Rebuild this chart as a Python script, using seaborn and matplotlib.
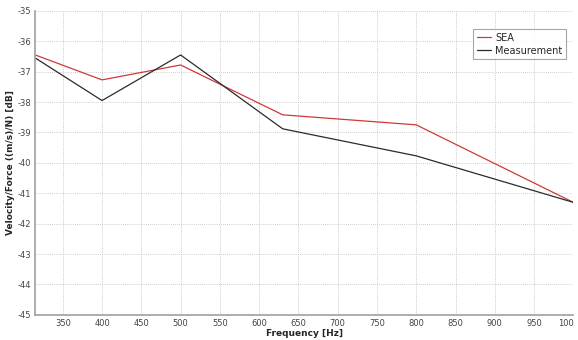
import matplotlib
matplotlib.use("Agg")
import matplotlib.pyplot as plt
import seaborn as sns
import pandas as pd

freq = [315, 400, 500, 630, 800, 1000]
sea = [-36.45, -37.27, -36.78, -38.42, -38.75, -41.3]
measurement = [-36.55, -37.95, -36.45, -38.88, -39.77, -41.3]
xtick_values = [350, 400, 450, 500, 550, 600, 650, 700, 750, 800, 850, 900, 950, 1000]
xtick_labels = ["350", "400", "450", "500", "550", "600", "650", "700", "750",
                "800", "850", "900", "950", "100"]

df = pd.DataFrame({
    "Frequency": freq * 2,
    "Value": sea + measurement,
    "Series": ["SEA"] * len(freq) + ["Measurement"] * len(freq),
})

sns.set_theme(style="white")
plt.rcParams['font.family'] = ['DejaVu Sans']
plt.rcParams['axes.unicode_minus'] = False

fig = plt.figure(figsize=(5.78, 3.4), dpi=100)
ax = fig.add_axes([0.061, 0.074, 0.931, 0.894])

sns.lineplot(data=df, x="Frequency", y="Value", hue="Series",
             palette={"SEA": "#d0393b", "Measurement": "#2b2b2b"},
             linewidth=0.9, ax=ax)

ax.set_xlim(315, 1000)
ax.set_ylim(-45, -35)
ax.set_xticks(xtick_values)
ax.set_xticklabels(xtick_labels)
ax.get_xticklabels()[-1].set_ha("right")
ax.get_xticklabels()[-1].set_x(0)
ax.set_yticks(list(range(-45, -34, 1)))
ax.tick_params(axis="both", labelsize=6, colors="#444444", length=2, pad=1)
ax.grid(True, linestyle=(0, (1, 1.5)), color="#bdbdbd", linewidth=0.6)
for s in ["top", "right"]:
    ax.spines[s].set_visible(False)
for s in ["left", "bottom"]:
    ax.spines[s].set_color("#a0a0a0")
    ax.spines[s].set_linewidth(1.2)

ax.set_xlabel("Frequency [Hz]", fontsize=6.5, fontweight="bold", labelpad=1)
ax.set_ylabel("Velocity/Force ((m/s)/N) [dB]", fontsize=6.5, fontweight="bold", labelpad=2)

leg = ax.legend(loc="upper right", bbox_to_anchor=(0.995, 0.955), fontsize=7,
                frameon=True, fancybox=False, handlelength=1.5, borderpad=0.35,
                labelspacing=0.3, handletextpad=0.4, title=None)
leg.get_frame().set_edgecolor("#909090")
leg.get_frame().set_linewidth(0.8)

fig.savefig("out.png", dpi=100)
